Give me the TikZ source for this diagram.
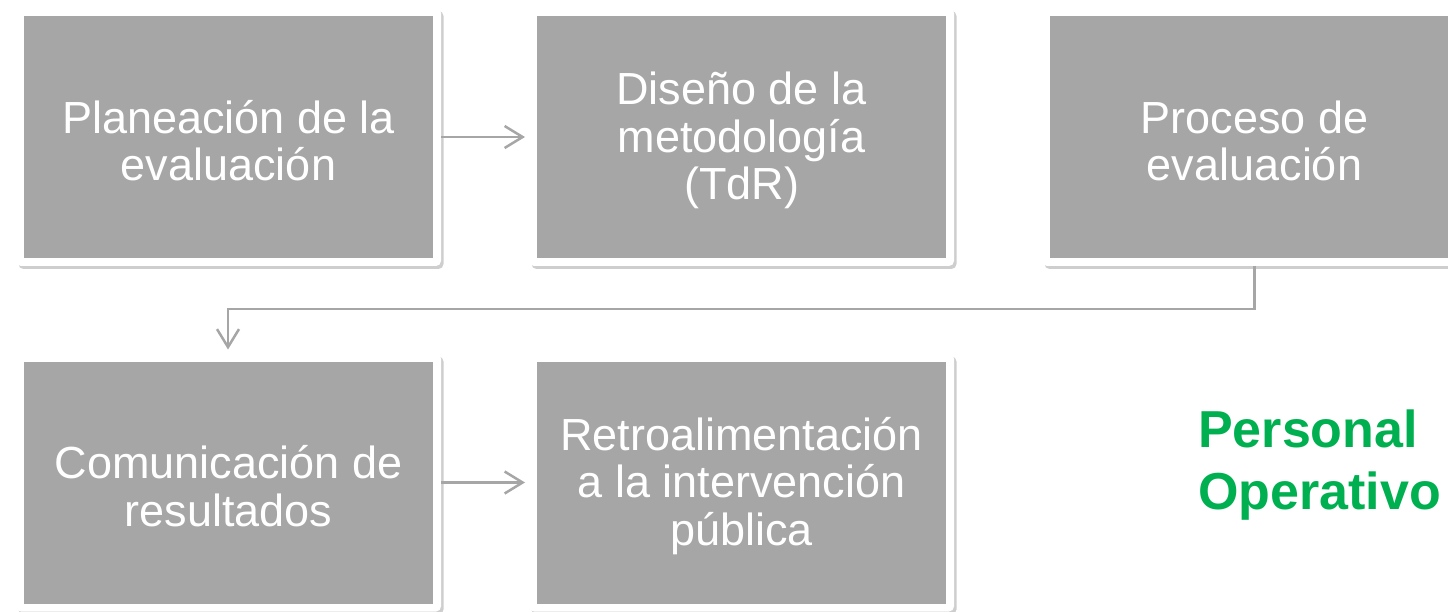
\documentclass[tikz,border=0pt]{standalone}
\usepackage{fontspec}
\setmainfont{Liberation Sans}
\usetikzlibrary{arrows.meta,shadows,positioning}
\definecolor{boxgray}{HTML}{A6A6A6}
\definecolor{linegray}{HTML}{A6A6A6}
\definecolor{opgreen}{HTML}{00B050}
\tikzset{
  card/.style={rectangle, fill=white, rounded corners=5pt, inner sep=0pt, outer sep=0pt,
    minimum width=425pt, minimum height=258pt,
    drop shadow={shadow xshift=2.5pt, shadow yshift=-3pt, opacity=0.35, fill=black!55}},
  inner/.style={rectangle, fill=boxgray, inner sep=0pt, outer sep=0pt,
    minimum width=409pt, minimum height=242pt, text=white, align=center,
    font=\fontsize{45}{47.5}\selectfont},
  flow/.style={draw=linegray, line width=2.5pt,
    -{Straight Barb[length=18pt,width=22pt,line width=2.5pt]}},
  plain/.style={draw=linegray, line width=2.5pt}
}
\begin{document}
\begin{tikzpicture}[x=1pt,y=-1pt]
\useasboundingbox (0,0) rectangle (1448,612);
\clip (0,0) rectangle (1448,612);
% row 1
\node[card] (c1) at (228.5,137) {};
\node[inner] (b1) at (228.5,137) {\rule{0pt}{40pt}Planeación de la\\evaluación};
\node[card] (c2) at (741.5,137) {};
\node[inner] (b2) at (741.5,137) {\rule{0pt}{40pt}Diseño de la\\metodología\\(TdR)};
\node[card] (c3) at (1254.5,137) {};
\node[inner] (b3) at (1254.5,137) {\rule{0pt}{40pt}Proceso de\\evaluación};
% row 2
\node[card] (c4) at (228.5,482.5) {};
\node[inner] (b4) at (228.5,482.5) {\rule{0pt}{40pt}Comunicación de\\resultados};
\node[card] (c5) at (741.5,482.5) {};
\node[inner] (b5) at (741.5,482.5) {\rule{0pt}{40pt}Retroalimentación\\a la intervención\\pública};
% label
\node[anchor=west, text=opgreen, align=left, inner sep=0pt,
  font=\bfseries\fontsize{52}{62}\selectfont] (lbl) at (1198,465) {Personal\\Operativo};
% connectors
\draw[flow, shorten >=4pt] (c1.east) -- (c2.west);
\draw[flow, shorten >=4pt] (c4.east) -- (c5.west);
\coordinate (turn1) at (c3.south |- 0,309);
\coordinate (turn2) at (228,309);
\draw[flow, shorten >=4pt] (c3.south) -- (turn1) -- (turn2) -- (turn2 |- c4.north);
\end{tikzpicture}
\end{document}
